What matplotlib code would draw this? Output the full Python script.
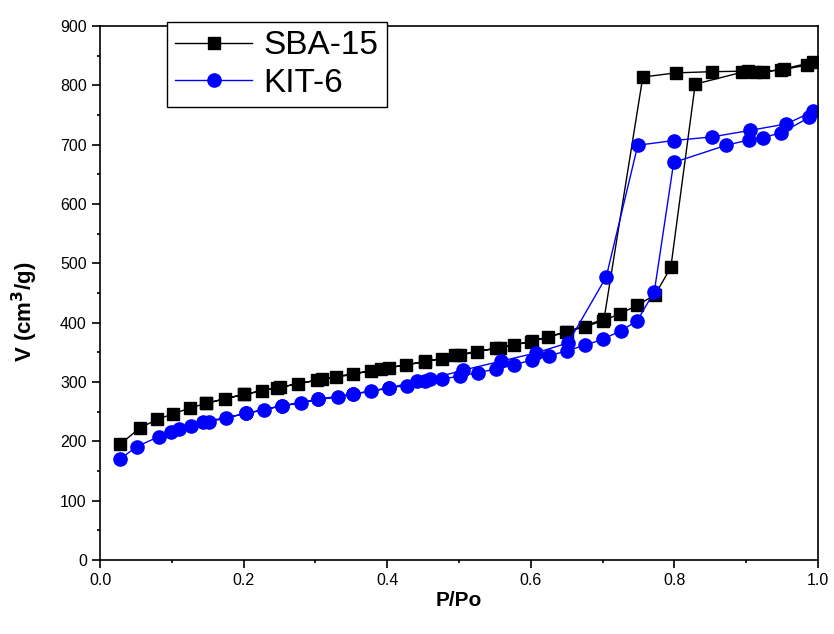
import matplotlib
matplotlib.use('Agg')
from matplotlib import pyplot as plt
from matplotlib.ticker import MultipleLocator

plt.rcParams['font.family'] = ['Liberation Sans', 'DejaVu Sans']

# SBA-15: adsorption branch then desorption branch
sba_p = [0.028, 0.056, 0.080, 0.101, 0.125, 0.148, 0.174, 0.200, 0.225, 0.250,
         0.276, 0.302, 0.328, 0.353, 0.377, 0.402, 0.426, 0.453, 0.476, 0.501,
         0.525, 0.552, 0.576, 0.601, 0.624, 0.649, 0.675, 0.700, 0.724, 0.748,
         0.773, 0.795, 0.829, 0.894, 0.923, 0.953, 0.993,
         0.984, 0.949, 0.912, 0.903, 0.852, 0.802, 0.756, 0.702, 0.650, 0.600,
         0.557, 0.494, 0.453, 0.392, 0.309, 0.246, 0.200, 0.148]
sba_v = [195, 223, 237, 246, 256, 264, 272, 279, 285, 291,
         297, 303, 308, 313, 319, 324, 329, 335, 339, 345,
         351, 357, 362, 369, 376, 385, 393, 403, 415, 429,
         447, 493, 802, 822, 822, 828, 839,
         834, 826, 822, 824, 823, 821, 814, 406, 384, 368,
         358, 345, 334, 322, 305, 290, 279, 264]

# KIT-6: adsorption branch then desorption branch
kit_p = [0.028, 0.051, 0.082, 0.099, 0.127, 0.144, 0.176, 0.203, 0.228, 0.253,
         0.280, 0.304, 0.332, 0.353, 0.378, 0.402, 0.427, 0.453, 0.477, 0.501,
         0.527, 0.552, 0.577, 0.601, 0.626, 0.651, 0.676, 0.700, 0.725, 0.748,
         0.772, 0.799, 0.872, 0.904, 0.923, 0.949, 0.988, 0.993,
         0.956, 0.905, 0.852, 0.799, 0.749, 0.705, 0.652, 0.607, 0.558, 0.506,
         0.460, 0.441, 0.402, 0.353, 0.304, 0.253, 0.203, 0.152, 0.110]
kit_v = [170, 191, 208, 216, 226, 233, 240, 247, 253, 260,
         264, 271, 274, 280, 284, 290, 294, 301, 305, 310,
         316, 322, 329, 337, 344, 353, 362, 372, 386, 403,
         452, 670, 699, 708, 712, 720, 746, 756,
         735, 724, 713, 707, 699, 477, 366, 349, 335, 320,
         305, 301, 290, 280, 271, 260, 247, 233, 220]

fig = plt.figure(figsize=(8.34, 6.34), dpi=100)
ax = fig.add_axes([100 / 834, 1 - 560 / 634, 718 / 834, 534 / 634])

ax.plot(sba_p, sba_v, color='black', lw=1, marker='s', ms=8, label='SBA-15')
ax.plot(kit_p, kit_v, color='blue', lw=1, marker='o', ms=9.5, label='KIT-6')

ax.set_xlim(0, 1)
ax.set_ylim(0, 900)
ax.xaxis.set_major_locator(MultipleLocator(0.2))
ax.xaxis.set_minor_locator(MultipleLocator(0.1))
ax.yaxis.set_major_locator(MultipleLocator(100))
ax.yaxis.set_minor_locator(MultipleLocator(50))
ax.tick_params(which='major', length=6, width=1.2, labelsize=11.5)
ax.tick_params(which='minor', length=2.5, width=1.2)
for s in ax.spines.values():
    s.set_linewidth(1.2)

ax.set_xlabel('P/Po', fontsize=15, fontweight='bold', labelpad=2)
ax.set_ylabel('V (cm$^\\mathbf{3}$/g)', fontsize=16, fontweight='bold')
ax.yaxis.set_label_coords(-0.084, 0.464)

leg = ax.legend(loc='upper left', bbox_to_anchor=(167 / 834, 1 - 22 / 634),
                bbox_transform=fig.transFigure, fontsize=24, fancybox=False,
                edgecolor='black', framealpha=1, handlelength=2.3,
                borderaxespad=0, borderpad=0.25, labelspacing=0.2,
                handletextpad=0.35)
leg.get_frame().set_linewidth(1)

fig.savefig('out.png', dpi=100)
